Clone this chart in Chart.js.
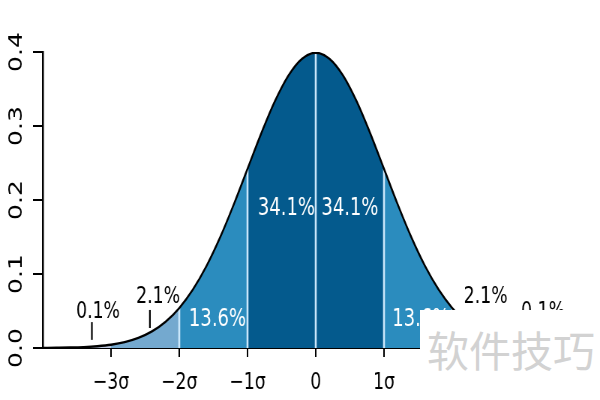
<!DOCTYPE html>
<html>
<head>
<meta charset="utf-8">
<script src="https://cdn.jsdelivr.net/npm/chart.js@4/dist/chart.umd.min.js"></script>
<style>
  html, body { margin: 0; padding: 0; background: #fff; overflow: hidden; }
  #page { position: relative; width: 600px; height: 400px; }
  #squeeze { position: absolute; left: 0; top: 0; width: 800px; height: 400px;
             transform: scaleX(0.75); transform-origin: 0 0; }
  #mark { position: absolute; left: 420px; top: 310px; width: 180px; height: 90px; background: #fff; }
  #mark span { position: absolute; left: 7px; top: 18px; font: 42px/42px 'Noto Sans CJK SC'; color: #d2d2d2; white-space: nowrap; }
</style>
</head>
<body>
<div id="page">
  <div id="squeeze"><canvas id="chart"></canvas></div>
  <div id="mark"><span>软件技巧</span></div>
</div>
<script>
// standard normal curve, read at steps of 0.2 sigma
const xs = [-4, -3.8, -3.6, -3.4, -3.2, -3, -2.8, -2.6, -2.4, -2.2, -2, -1.8, -1.6, -1.4, -1.2, -1,
    -0.8, -0.6, -0.4, -0.2, 0, 0.2, 0.4, 0.6, 0.8, 1, 1.2, 1.4, 1.6, 1.8, 2, 2.2, 2.4, 2.6, 2.8, 3,
    3.2, 3.4, 3.6, 3.8, 4];
const density = [0.0001, 0.0003, 0.0006, 0.0012, 0.0024, 0.0044, 0.0079, 0.0136, 0.0224, 0.0355,
    0.0540, 0.0790, 0.1109, 0.1497, 0.1942, 0.2420, 0.2897, 0.3332, 0.3683, 0.3910, 0.3989,
    0.3910, 0.3683, 0.3332, 0.2897, 0.2420, 0.1942, 0.1497, 0.1109, 0.0790, 0.0540, 0.0355,
    0.0224, 0.0136, 0.0079, 0.0044, 0.0024, 0.0012, 0.0006, 0.0003, 0.0001];

const bandEdges = [-4, -3, -2, -1, 0, 1, 2, 3, 4];
const bandShares = ['0.1%', '2.1%', '13.6%', '34.1%', '34.1%', '13.6%', '2.1%', '0.1%'];
const dividers = [-2, -1, 0, 1, 2];

const xTickValues = [-3, -2, -1, 0, 1, 2, 3];
const xTickLabels = ['\u22123\u03c3', '\u22122\u03c3', '\u22121\u03c3', '0', '1\u03c3', '2\u03c3', '3\u03c3'];
const yTickValues = [0, 0.1, 0.2, 0.3, 0.4];
const yTickLabels = ['0.0', '0.1', '0.2', '0.3', '0.4'];

const bandColors = ['#bdc9e1', '#74a9cf', '#2b8cbe', '#045a8d', '#045a8d', '#2b8cbe', '#74a9cf', '#bdc9e1'];

// where each share label sits (data units), and its pointer line if any
const labelSpots = [
    { x: -3.19, y: 0.0486, dark: true, line: [-3.28, 0.011, 0.035] },
    { x: -2.31, y: 0.069, dark: true, line: [-2.43, 0.027, 0.0514] },
    { x: -1.44, y: 0.038 },
    { x: -0.43, y: 0.188 },
    { x: 0.5, y: 0.188 },
    { x: 1.54, y: 0.038 },
    { x: 2.49, y: 0.069, dark: true, line: [2.43, 0.027, 0.0514] },
    { x: 3.33, y: 0.0486, dark: true, line: [3.28, 0.011, 0.035] }
];

const curve = xs.map((x, i) => ({ x: x, y: density[i] }));

const datasets = [];
datasets.push({
    data: curve, borderColor: '#000', borderWidth: 2.4, pointRadius: 0,
    cubicInterpolationMode: 'monotone', fill: false, order: 0
});
dividers.forEach(d => {
    const top = density[xs.indexOf(d)];
    datasets.push({
        data: [{ x: d, y: 0 }, { x: d, y: top }], borderColor: '#cbe7fb', borderWidth: 2.6,
        pointRadius: 0, fill: false, order: 1
    });
});
for (let b = 0; b < bandEdges.length - 1; b++) {
    const part = curve.filter(p => p.x >= bandEdges[b] - 1e-9 && p.x <= bandEdges[b + 1] + 1e-9);
    datasets.push({
        data: part, borderWidth: 0, borderColor: 'rgba(0,0,0,0)', backgroundColor: bandColors[b],
        pointRadius: 0, cubicInterpolationMode: 'monotone', fill: 'origin', order: 2
    });
}

const shareLabels = {
    id: 'shareLabels',
    afterDatasetsDraw(chart) {
        const ctx = chart.ctx;
        const xs_ = chart.scales.x, ys_ = chart.scales.y;
        ctx.save();
        labelSpots.forEach((s, i) => {
            ctx.fillStyle = s.dark ? '#000' : '#fff';
            ctx.font = (s.dark ? 23 : 24) + 'px "DejaVu Sans"';
            ctx.textAlign = 'center';
            ctx.textBaseline = 'middle';
            ctx.fillText(bandShares[i], xs_.getPixelForValue(s.x), ys_.getPixelForValue(s.y));
            if (s.line) {
                ctx.strokeStyle = '#000';
                ctx.lineWidth = 2.2;
                ctx.beginPath();
                ctx.moveTo(xs_.getPixelForValue(s.line[0]), ys_.getPixelForValue(s.line[1]));
                ctx.lineTo(xs_.getPixelForValue(s.line[0]), ys_.getPixelForValue(s.line[2]));
                ctx.stroke();
            }
        });
        ctx.restore();
    }
};

new Chart(document.getElementById('chart'), {
    type: 'line',
    data: { datasets: datasets },
    options: {
        responsive: true,
        maintainAspectRatio: false,
        animation: false,
        events: [],
        layout: { padding: { top: 52, right: 15, bottom: 0, left: 0 } },
        plugins: { legend: { display: false }, tooltip: { enabled: false } },
        scales: {
            x: {
                type: 'linear', min: -4, max: 4,
                afterBuildTicks: s => { s.ticks = xTickValues.map(v => ({ value: v })); },
                afterFit: s => { s.height = 52; },
                grid: { drawOnChartArea: false, drawTicks: true, tickLength: 9, color: '#000', lineWidth: 2 },
                border: { color: '#000', width: 2 },
                ticks: {
                    color: '#000', padding: 12, maxRotation: 0, autoSkip: false,
                    font: { family: 'DejaVu Sans', size: 23 },
                    callback: (v) => xTickLabels[xTickValues.indexOf(v)]
                }
            },
            y: {
                type: 'linear', min: 0, max: 0.4,
                afterBuildTicks: s => { s.ticks = yTickValues.map(v => ({ value: v })); },
                afterFit: s => { s.width = 57; },
                grid: { drawOnChartArea: false, drawTicks: true, tickLength: 13, color: '#000', lineWidth: 2 },
                border: { color: '#000', width: 2.5 },
                ticks: {
                    color: '#000', padding: 2, minRotation: 90, maxRotation: 90, crossAlign: 'center',
                    font: { family: 'DejaVu Sans', size: 25 },
                    callback: (v) => yTickLabels[yTickValues.indexOf(v)]
                }
            }
        }
    },
    plugins: [shareLabels]
});
</script>
</body>
</html>
